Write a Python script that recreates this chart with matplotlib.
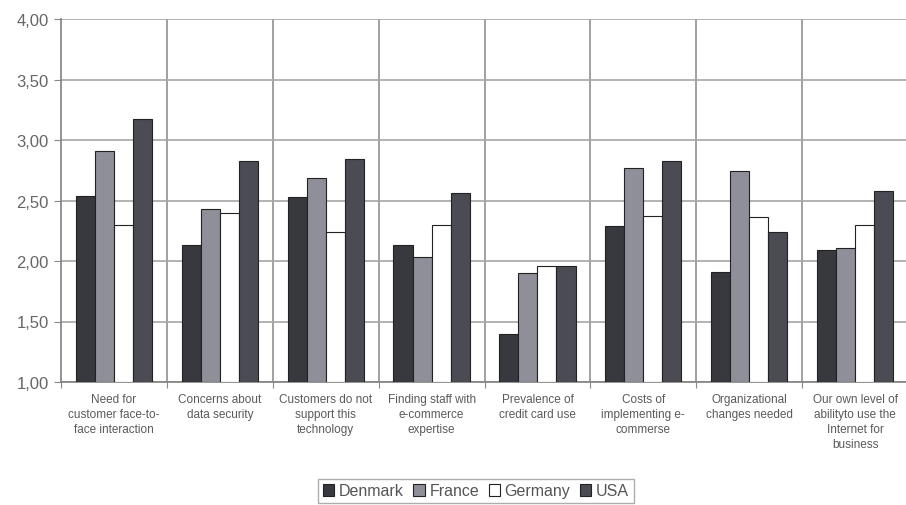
import numpy as np
import matplotlib.pyplot as plt

plt.rcParams['font.family'] = ['Liberation Sans', 'DejaVu Sans']

categories = [
    "Need for\ncustomer face-to-\nface interaction",
    "Concerns about\ndata security",
    "Customers do not\nsupport this\ntechnology",
    "Finding staff with\ne-commerce\nexpertise",
    "Prevalence of\ncredit card use",
    "Costs of\nimplementing e-\ncommerse",
    "Organizational\nchanges needed",
    "Our own level of\nabilityto use the\nInternet for\nbusiness",
]
denmark = [2.54, 2.13, 2.53, 2.13, 1.40, 2.29, 1.91, 2.09]
france = [2.91, 2.43, 2.69, 2.03, 1.90, 2.77, 2.74, 2.11]
germany = [2.30, 2.40, 2.24, 2.30, 1.96, 2.37, 2.36, 2.30]
usa = [3.17, 2.83, 2.84, 2.56, 1.96, 2.83, 2.24, 2.58]
countries = ["Denmark", "France", "Germany", "USA"]
colors = ["#38383f", "#8f8f99", "#ffffff", "#4b4b53"]

fig = plt.figure(figsize=(9.06, 5.06), dpi=100)
ax = fig.add_axes([61 / 906, 123 / 506, 847 / 906, 363 / 506])

x = np.arange(len(categories))
w = 0.18
series = [denmark, france, germany, usa]
for i, (vals, c, name) in enumerate(zip(series, colors, countries)):
    ax.bar(x + (i - 1.5) * w, np.array(vals) - 1, bottom=1, width=w,
           color=c, edgecolor="#222222", linewidth=0.8, label=name, zorder=3)

ax.set_xlim(-0.5, len(categories) - 0.5)
ax.set_ylim(1, 4)
ax.set_yticks(np.arange(1, 4.01, 0.5))
ax.set_yticklabels([f"{v:.2f}".replace(".", ",") for v in np.arange(1, 4.01, 0.5)],
                   fontsize=12, color="#666666")

# horizontal grid plus separators between categories
ax.grid(axis="y", color="#a5a5a5", linewidth=1.2, zorder=0)
for b in np.arange(0.5, len(categories) - 0.5, 1):
    ax.axvline(b, color="#909090", linewidth=1.2, zorder=0)

ax.set_xticks(np.arange(-0.5, len(categories), 1))
ax.set_xticklabels([])
ax.tick_params(axis="x", length=4, color="#888888")
ax.tick_params(axis="y", length=5, color="#888888", pad=4)
for i, lab in enumerate(categories):
    ax.text(i, -0.03, lab, transform=ax.get_xaxis_transform(), ha="center",
            va="top", fontsize=8.5, color="#5a5a5a", linespacing=1.35)

for s in ["top", "right"]:
    ax.spines[s].set_visible(False)
for s in ["left", "bottom"]:
    ax.spines[s].set_color("#808080")
    ax.spines[s].set_linewidth(1.2)

leg = fig.legend(loc="center", bbox_to_anchor=(476 / 906, 1 - 492 / 506), ncol=4,
                 fontsize=11.5, frameon=True, fancybox=False, handlelength=0.7,
                 handleheight=0.7, handletextpad=0.3, columnspacing=0.6,
                 borderpad=0.3, edgecolor="#999999")
for t in leg.get_texts():
    t.set_color("#555555")

fig.savefig("out.png", dpi=100)
